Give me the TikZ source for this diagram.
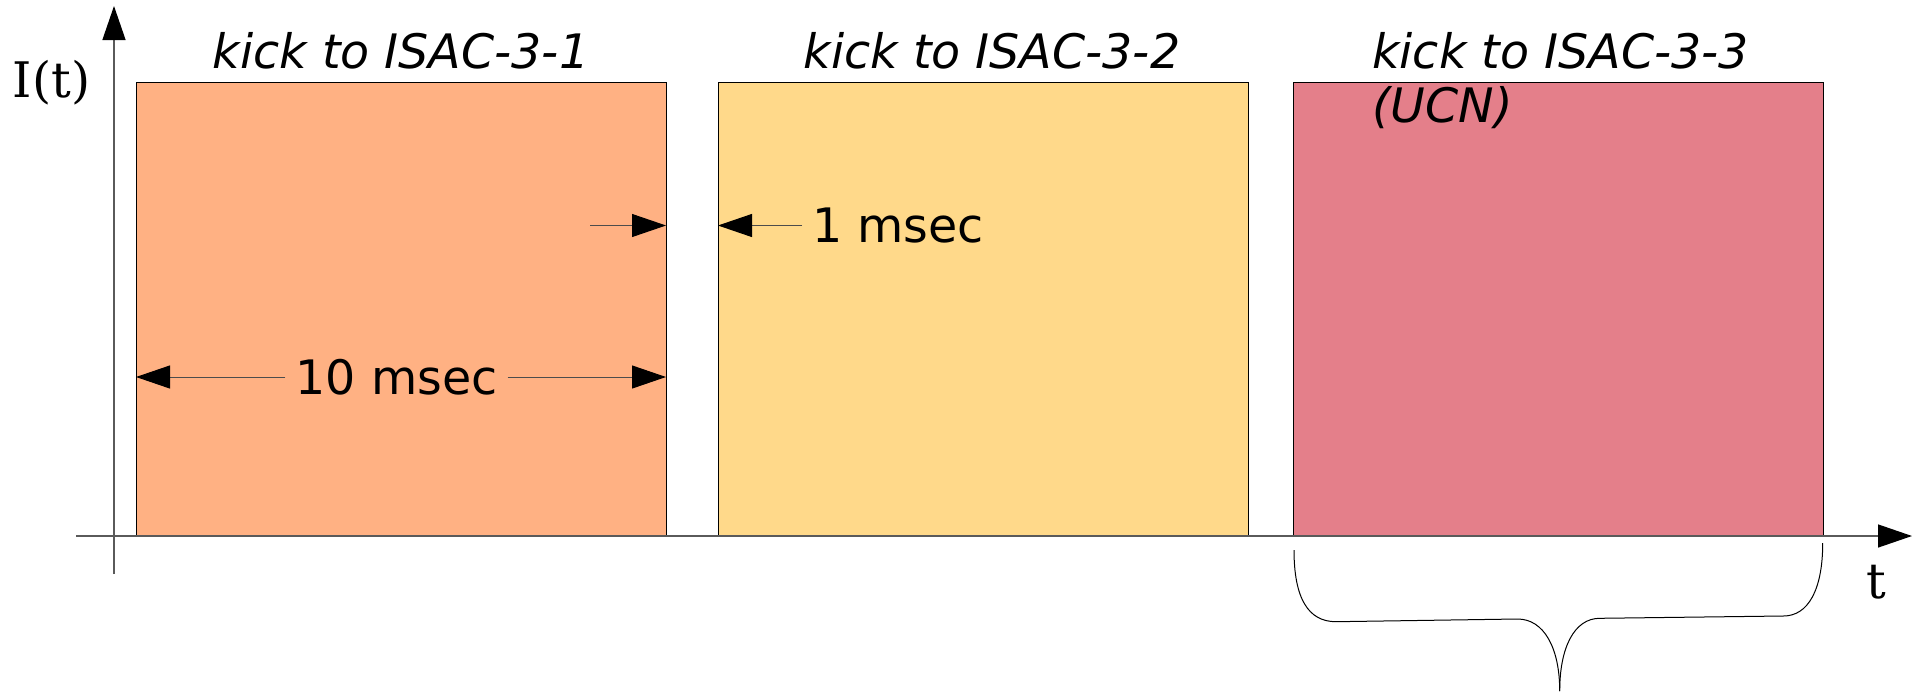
\documentclass[tikz,border=0pt]{standalone}
\usepackage{fontspec}
\usetikzlibrary{arrows.meta}
\newfontfamily\djsans{DejaVu Sans}
\newfontfamily\djserif{DejaVu Serif}
\definecolor{boxA}{HTML}{FFB183}
\definecolor{boxB}{HTML}{FFD98A}
\definecolor{boxC}{HTML}{E47F8A}
\definecolor{axisgray}{HTML}{5A5A5A}
\begin{document}
\begin{tikzpicture}[x=1pt,y=-1pt,
  pulse/.style={draw=black, line width=1pt, minimum width=530pt, minimum height=454pt,
    anchor=north west, inner sep=0pt, outer sep=0pt},
  lbl/.style={font=\djsans\fontsize{47.5}{56}\selectfont, inner sep=0pt},
  title/.style={font=\djsans\itshape\fontsize{47.5}{56}\selectfont, inner sep=0pt},
  serlbl/.style={font=\djserif\fontsize{49}{56}\selectfont, inner sep=0pt},
  axisline/.style={draw=axisgray, line width=1.3pt, -{Triangle[length=34pt,width=23pt,color=black]}},
  dimline/.style={draw=black!70, line width=1pt, -{Triangle[length=34pt,width=23pt,color=black]}},
  braceline/.style={draw=black, line width=1pt}
]
\useasboundingbox (0,0) rectangle (1922,691);

% pulses
\node[pulse, fill=boxA] (box1) at (136,82) {};
\node[pulse, fill=boxB] (box2) at (718,82) {};
\node[pulse, fill=boxC] (box3) at (1293,82) {};

% axes
\coordinate (yb) at (114,574);
\coordinate (yt) at (114,6);
\coordinate (xl) at (76,536);
\coordinate (xr) at (1912,536);
\draw[axisline] (yb) -- (yt);
\draw[axisline] (xl) -- (xr);
\node[serlbl, anchor=base] (Ilab) at (51.5,97.5) {I(t)};
\node[serlbl, anchor=base] (tlab) at (1876,598) {t};

% titles
\node[title, anchor=base] (k1) at (401,68) {kick to ISAC-3-1};
\node[title, anchor=base] (k2) at (992,68) {kick to ISAC-3-2};
\node[title, anchor=base west] (k3) at (1372,68) {kick to ISAC-3-3};
\node[title, anchor=base west] (k3b) at (1372,122) {(UCN)};

% 10 msec
\node[lbl, inner xsep=10pt, anchor=center] (ten) at (396.5,377) {10 msec};
\draw[dimline] (ten.west) -- (ten.west -| box1.west);
\draw[dimline] (ten.east) -- (ten.east -| box1.east);

% 1 msec
\node[lbl, inner xsep=10pt, anchor=west] (one) at (802,225.5) {1 msec};
\draw[dimline] (one.west) -- (one.west -| box2.west);
\coordinate (c1) at (590,225.5);
\draw[dimline] (c1) -- (c1 -| box1.east);

% brace
\coordinate (bl) at (1294,550);
\coordinate (br) at (1822.7,543);
\coordinate (btip) at (1559.7,691);
\draw[braceline] (bl) .. controls (1294,598) and (1308,621.7) .. (1336,621.7)
  -- (1517.5,619) .. controls (1544,619) and (1559.7,648) .. (btip);
\draw[braceline] (br) .. controls (1822.7,590) and (1808,616) .. (1783.4,616)
  -- (1599.8,618.3) .. controls (1574,618.3) and (1559.7,648) .. (btip);
\end{tikzpicture}
\end{document}
